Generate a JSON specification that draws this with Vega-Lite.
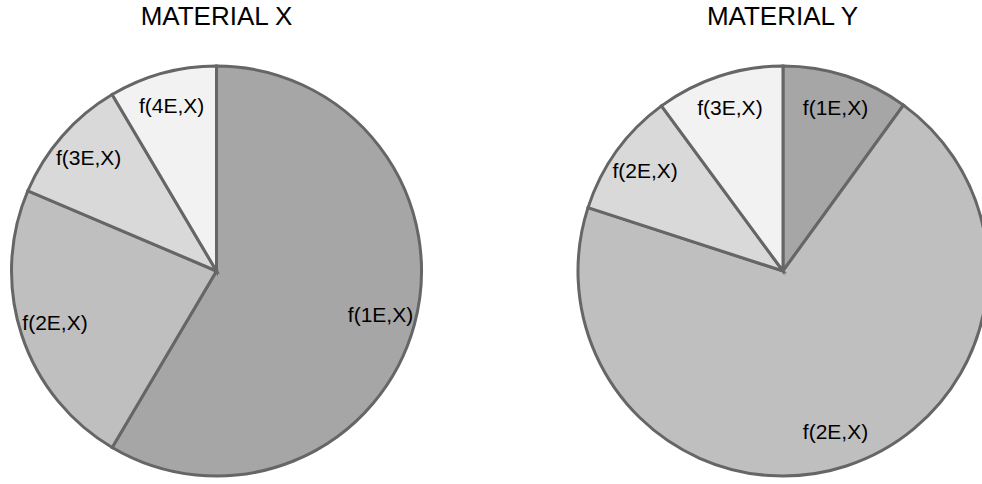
{
  "$schema": "https://vega.github.io/schema/vega-lite/v6.json",
  "background": "white",
  "padding": {"top": 4, "left": 0, "right": 0, "bottom": 0},
  "spacing": 120,
  "config": {
    "view": {"stroke": null},
    "title": {"font": "Liberation Sans", "fontSize": 26, "fontWeight": "normal", "color": "#000000", "anchor": "middle", "frame": "group", "offset": 30},
    "text": {"font": "Liberation Sans"}
  },
  "datasets": {
    "matX": [
      {"material": "X", "slice": 1, "share": 58.5, "label": "f(1E,X)"},
      {"material": "X", "slice": 2, "share": 22.9, "label": "f(2E,X)"},
      {"material": "X", "slice": 3, "share": 10.1, "label": "f(3E,X)"},
      {"material": "X", "slice": 4, "share": 8.5, "label": "f(4E,X)"}
    ],
    "matY": [
      {"material": "Y", "slice": 1, "share": 10.0, "label": "f(1E,X)"},
      {"material": "Y", "slice": 2, "share": 70.0, "label": "f(2E,X)"},
      {"material": "Y", "slice": 3, "share": 9.9, "label": "f(2E,X)"},
      {"material": "Y", "slice": 4, "share": 10.1, "label": "f(3E,X)"}
    ]
  },
  "hconcat": [
    {
      "width": 433,
      "height": 422,
      "title": {"text": "MATERIAL X"},
      "data": {"name": "matX"},
      "encoding": {
        "theta": {"field": "share", "type": "quantitative", "stack": true},
        "order": {"field": "slice", "type": "quantitative"}
      },
      "layer": [
        {
          "mark": {"type": "arc", "radius": 205, "stroke": "#666666", "strokeWidth": 3},
          "encoding": {
            "color": {"field": "slice", "type": "nominal", "scale": {"domain": [1, 2, 3, 4], "range": ["#a6a6a6", "#bfbfbf", "#d9d9d9", "#f2f2f2"]}, "legend": null}
          }
        },
        {
          "mark": {"type": "text", "radius": 170, "fontSize": 21, "color": "#000000", "align": "center", "baseline": "middle"},
          "encoding": {"text": {"field": "label", "type": "nominal"}}
        }
      ]
    },
    {
      "width": 429,
      "height": 422,
      "title": {"text": "MATERIAL Y", "dx": 15},
      "data": {"name": "matY"},
      "encoding": {
        "x": {"field": "material", "type": "nominal", "scale": {"type": "point", "align": 0.5361}, "axis": null},
        "theta": {"field": "share", "type": "quantitative", "stack": true},
        "order": {"field": "slice", "type": "quantitative"}
      },
      "layer": [
        {
          "mark": {"type": "arc", "radius": 205, "stroke": "#666666", "strokeWidth": 3, "clip": true},
          "encoding": {
            "color": {"field": "slice", "type": "nominal", "scale": {"domain": [1, 2, 3, 4], "range": ["#a6a6a6", "#bfbfbf", "#d9d9d9", "#f2f2f2"]}, "legend": null}
          }
        },
        {
          "mark": {"type": "text", "radius": 170, "fontSize": 21, "color": "#000000", "align": "center", "baseline": "middle"},
          "encoding": {"text": {"field": "label", "type": "nominal"}}
        }
      ]
    }
  ]
}
